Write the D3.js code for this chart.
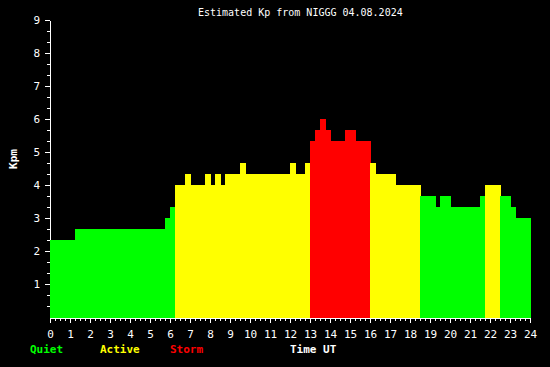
<!DOCTYPE html>
<html><head><meta charset="utf-8">
<script src="https://cdn.jsdelivr.net/npm/d3@7"></script>
<style>
html,body{margin:0;padding:0;background:#000;}
svg{display:block;}
</style></head>
<body>
<script>
// Estimated Kp, 15-minute steps from 00:00 UT (96 values)
const kpValues = [
  2.33,2.33,2.33,2.33,2.33,
  2.67,2.67,2.67,2.67,2.67,2.67,2.67,2.67,2.67,2.67,2.67,2.67,2.67,2.67,2.67,2.67,2.67,2.67,
  3.0,3.33,
  4.0,4.0,4.33,4.0,4.0,4.0,4.33,4.0,4.33,4.0,
  4.33,4.33,4.33,4.67,
  4.33,4.33,4.33,4.33,4.33,4.33,4.33,4.33,4.33,
  4.67,4.33,4.33,4.67,
  5.33,5.67,6.0,5.67,5.33,5.33,5.33,5.67,5.67,5.33,5.33,5.33,
  4.67,4.33,4.33,4.33,4.33,
  4.0,4.0,4.0,4.0,4.0,
  3.67,3.67,3.67,3.33,3.67,3.67,
  3.33,3.33,3.33,3.33,3.33,3.33,
  3.67,4.0,4.0,4.0,3.67,3.67,3.33,3.0,3.0,3.0
];
const stepHours = 0.25;
const xTickLabels = d3.range(0, 25);
const yTickLabels = [1,2,3,4,5,6,7,8,9];
const yMinorTicks = d3.range(1, 27).map(d => d / 3).filter(d => Math.abs(d - Math.round(d)) > 0.01);
const xMinorTicks = d3.range(0, 97).map(d => d * stepHours);
const legendItems = [
  {label: "Quiet", color: "#00ff00"},
  {label: "Active", color: "#ffff00"},
  {label: "Storm", color: "#ff0000"}
];
const titleText = "Estimated Kp from NIGGG 04.08.2024";

const W = 550, H = 367;
const mono = "'DejaVu Sans Mono', 'Liberation Mono', monospace";
const svg = d3.select("body").append("svg").attr("width", W).attr("height", H)
  .style("background", "#000");

const x = d3.scaleLinear().domain([0, 24]).range([50, 530]);
const y = d3.scaleLinear().domain([0, 9]).range([317, 20]);

function colorFor(v) { return v >= 5 ? "#ff0000" : (v >= 4 ? "#ffff00" : "#00ff00"); }

// Y axis (major + minor)
const gy = svg.append("g").attr("transform", "translate(0.5,0)");
gy.append("g").attr("transform", `translate(${x(0)-0.5},0)`)
  .call(d3.axisLeft(y).tickValues(yTickLabels).tickSize(5).tickSizeOuter(0).tickPadding(5).tickFormat(d3.format("d")))
  .call(g => {
    g.selectAll("path,line").attr("stroke", "#fff").attr("shape-rendering", "crispEdges");
    g.selectAll("text").attr("fill", "#fff").attr("font-family", mono).attr("font-size", 11).attr("dy", "0.36em");
  });
gy.append("g").attr("transform", `translate(${x(0)-0.5},0)`)
  .call(d3.axisLeft(y).tickValues(yMinorTicks).tickSize(3).tickSizeOuter(0).tickFormat(""))
  .call(g => {
    g.select(".domain").remove();
    g.selectAll("line").attr("stroke", "#fff").attr("shape-rendering", "crispEdges");
  });

// X axis
const gx = svg.append("g").attr("transform", `translate(0,${y(0)+1})`);
gx.append("g")
  .call(d3.axisBottom(x).tickValues(xMinorTicks).tickSize(3).tickSizeOuter(0).tickFormat(""))
  .call(g => {
    g.selectAll("path,line").attr("stroke", "#fff").attr("shape-rendering", "crispEdges");
  });
gx.append("g")
  .call(d3.axisBottom(x).tickValues(xTickLabels).tickSize(5).tickSizeOuter(0).tickPadding(7).tickFormat(d3.format("d")))
  .call(g => {
    g.select(".domain").remove();
    g.selectAll("line").attr("stroke", "#fff").attr("shape-rendering", "crispEdges");
    g.selectAll("text").attr("fill", "#fff").attr("font-family", mono).attr("font-size", 11);
  });

// Bars (drawn left to right, 1px overlap like the original raster)
const bw = x(stepHours) - x(0);
svg.append("g").selectAll("rect").data(kpValues).join("rect")
  .attr("x", (d, i) => x(i * stepHours))
  .attr("y", d => Math.round(y(d)))
  .attr("width", bw + 1)
  .attr("height", d => y(0) + 1 - Math.round(y(d)))
  .attr("fill", d => colorFor(d))
  .attr("shape-rendering", "crispEdges");

// Title
svg.append("text").attr("x", 198).attr("y", 16)
  .attr("fill", "#fff").attr("font-family", mono).attr("font-size", 10)
  .text(titleText);

// Y label
svg.append("text").attr("transform", "translate(17,159) rotate(-90)")
  .attr("text-anchor", "middle").attr("fill", "#fff").attr("font-family", mono)
  .attr("font-size", 11).attr("font-weight", "bold").text("Kpm");

// Legend
const legendX = [30, 100, 170];
svg.append("g").selectAll("text").data(legendItems).join("text")
  .attr("x", (d, i) => legendX[i]).attr("y", 353)
  .attr("fill", d => d.color).attr("font-family", mono).attr("font-size", 11).attr("font-weight", "bold")
  .text(d => d.label);
svg.append("text").attr("x", 290).attr("y", 353)
  .attr("fill", "#fff").attr("font-family", mono).attr("font-size", 11).attr("font-weight", "bold")
  .text("Time UT");
</script>
</body></html>
